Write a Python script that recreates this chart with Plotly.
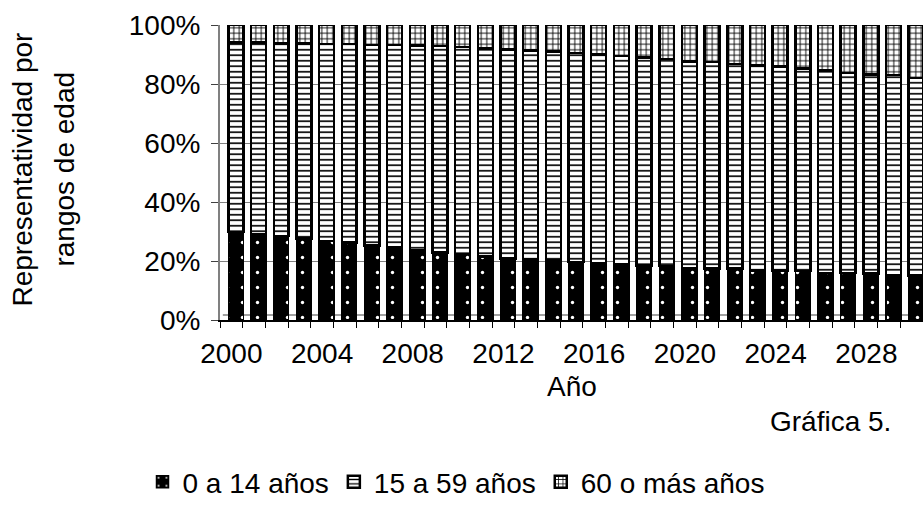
import plotly.graph_objects as go

# Años proyectados
years = list(range(2000, 2031))

# Participación (%) de cada rango de edad en la población total
age_0_14 = [29.8, 29.0, 28.4, 27.6, 26.8, 26.2, 25.3, 24.6, 23.8, 22.9,
            22.3, 21.6, 20.9, 20.7, 20.1, 19.6, 19.2, 19.0, 18.4, 18.3,
            17.6, 17.5, 17.4, 16.8, 16.7, 16.6, 16.0, 15.9, 15.8, 15.2, 15.1]
age_15_59 = [64.2, 65.0, 65.4, 66.1, 66.8, 67.3, 68.0, 68.6, 69.2, 69.9,
             70.2, 70.4, 70.8, 70.6, 70.9, 70.9, 70.8, 70.5, 70.6, 70.1,
             70.0, 69.9, 69.4, 69.4, 69.2, 68.7, 68.6, 67.8, 67.4, 67.8, 67.0]
age_60_plus = [6.0, 6.0, 6.2, 6.3, 6.4, 6.5, 6.7, 6.8, 7.0, 7.2,
               7.5, 8.0, 8.3, 8.7, 9.0, 9.5, 10.0, 10.5, 11.0, 11.6,
               12.4, 12.6, 13.2, 13.8, 14.1, 14.7, 15.4, 16.3, 16.8, 17.0, 17.9]

series_names = ["0 a 14 años", "15 a 59 años", "60 o más años"]
tick_years = [2000, 2004, 2008, 2012, 2016, 2020, 2024, 2028]
pct_ticks = [0, 20, 40, 60, 80, 100]
pct_labels = ["0%", "20%", "40%", "60%", "80%", "100%"]

FONT = "Liberation Sans, Arial, sans-serif"
FS = 28

W, H = 923, 507
ML, MR, MT, MB = 220, 0, 25, 182

bar_width = 0.66
bar_offset = -0.13

fig = go.Figure()

fig.add_trace(go.Bar(
    x=years, y=age_0_14, name=series_names[0],
    width=bar_width, offset=bar_offset,
    marker=dict(
        color="black",
        line=dict(color="black", width=1.5),
        pattern=dict(shape=".", bgcolor="black", fgcolor="white",
                     size=15, solidity=0.04, fillmode="replace"),
    ),
))
fig.add_trace(go.Bar(
    x=years, y=age_15_59, name=series_names[1],
    width=bar_width, offset=bar_offset,
    marker=dict(
        color="white",
        line=dict(color="black", width=2.5),
        pattern=dict(shape="-", bgcolor="white", fgcolor="black",
                     size=5.5, solidity=0.3, fillmode="replace"),
    ),
))
fig.add_trace(go.Bar(
    x=years, y=age_60_plus, name=series_names[2],
    width=bar_width, offset=bar_offset,
    marker=dict(
        color="white",
        line=dict(color="black", width=2.5),
        pattern=dict(shape="+", bgcolor="white", fgcolor="black",
                     size=5.5, solidity=0.3, fillmode="replace"),
    ),
))

def px_to_paper_x(px):
    return (px - ML) / (W - ML - MR)

def px_to_paper_y(py):
    return (H - MB - py) / (H - MT - MB)

annotations = [
    dict(text="Representatividad por", x=px_to_paper_x(23), y=px_to_paper_y(172),
         textangle=-90),
    dict(text="rangos de edad", x=px_to_paper_x(65), y=px_to_paper_y(172),
         textangle=-90),
    dict(text="Año", x=px_to_paper_x(572), y=px_to_paper_y(393)),
    dict(text="Gráfica 5.", x=px_to_paper_x(830), y=px_to_paper_y(428)),
]
for a in annotations:
    a.update(xref="paper", yref="paper", showarrow=False,
             xanchor="center", yanchor="middle",
             font=dict(family=FONT, size=FS, color="black"))

fig.update_layout(
    width=W, height=H, autosize=False,
    margin=dict(l=ML, r=MR, t=MT, b=MB, pad=0),
    paper_bgcolor="white", plot_bgcolor="white",
    barmode="stack",
    font=dict(family=FONT, size=FS, color="black"),
    showlegend=True,
    legend=dict(
        orientation="h", x=px_to_paper_x(456), y=px_to_paper_y(490),
        xanchor="center", yanchor="middle",
        font=dict(family=FONT, size=FS, color="black"),
        bgcolor="rgba(0,0,0,0)", traceorder="normal",
        itemclick=False,
    ),
    annotations=annotations,
    shapes=[
        # back floor edge of the plotting box
        dict(type="line", xref="paper", yref="paper",
             x0=0.004, x1=1, y0=px_to_paper_y(320), y1=px_to_paper_y(320),
             line=dict(color="#808080", width=1.5), layer="below"),
    ],
)

fig.update_xaxes(
    range=[1999.5, 2030.5], type="linear",
    tickvals=tick_years, ticktext=[str(y) for y in tick_years],
    ticks="", ticklabelstandoff=8,
    showline=True, linecolor="black", linewidth=1.5,
    showgrid=False, zeroline=False,
    minor=dict(tick0=1999.5, dtick=1, ticks="outside", ticklen=6,
               tickcolor="black", tickwidth=1, showgrid=False),
    tickfont=dict(family=FONT, size=FS, color="black"),
    fixedrange=True,
)
fig.update_yaxes(
    range=[0, 100],
    tickvals=pct_ticks, ticktext=pct_labels,
    ticks="outside", ticklen=7, tickcolor="#404040", tickwidth=1,
    ticklabelstandoff=5,
    showline=True, linecolor="#808080", linewidth=2,
    showgrid=True, gridcolor="#808080", gridwidth=1,
    zeroline=False,
    tickfont=dict(family=FONT, size=FS, color="black"),
    fixedrange=True,
)

fig.write_html("out.html", config={"displayModeBar": False})
